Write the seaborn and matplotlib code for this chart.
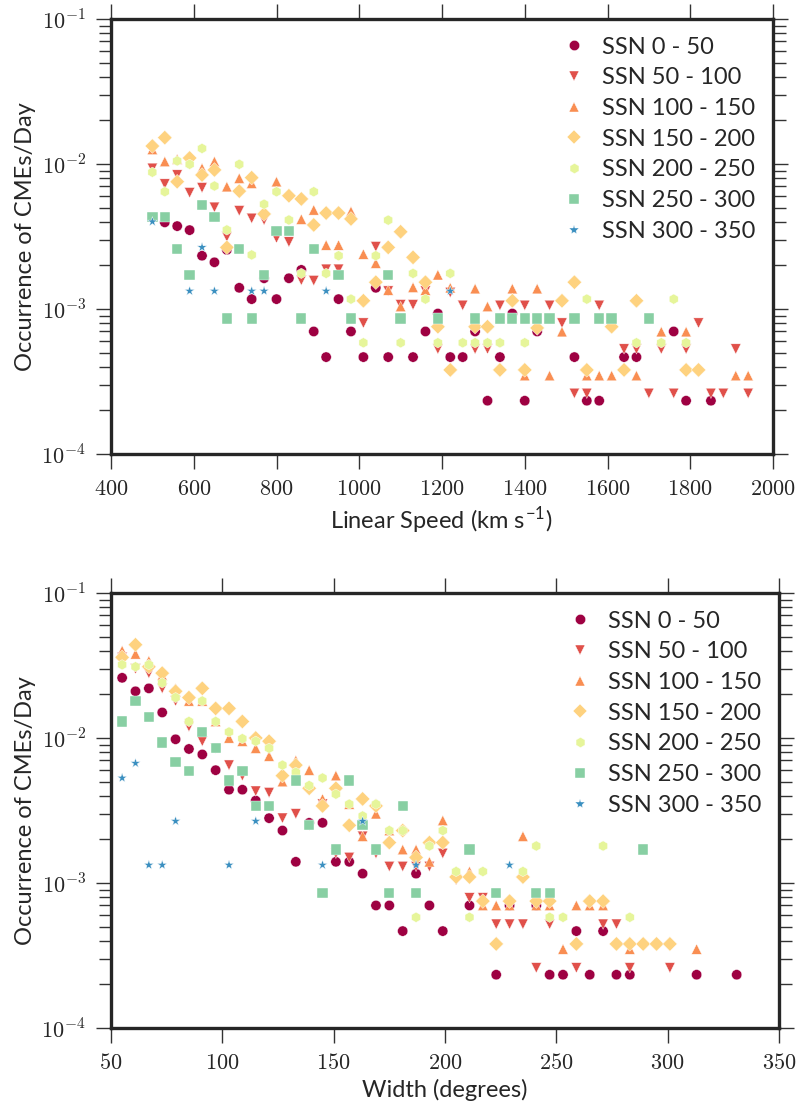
import numpy as np
import pandas as pd
import matplotlib
matplotlib.use("Agg")
import matplotlib.pyplot as plt
import seaborn as sns
from matplotlib.lines import Line2D
from matplotlib.ticker import LogLocator, FuncFormatter, NullFormatter

# ---------------- data ----------------
ssn_labels = ["SSN 0 - 50", "SSN 50 - 100", "SSN 100 - 150", "SSN 150 - 200",
              "SSN 200 - 250", "SSN 250 - 300", "SSN 300 - 350"]

# Top panel: linear speed (km/s) vs occurrence (CMEs/day)
spd_x0 = [530,560,590,620,650,680,710,740,770,800,830,860,890,920,950,980,1010,1040,1070,1130,
          1160,1190,1220,1250,1280,1310,1340,1370,1400,1430,1520,1550,1580,1640,1670,1760,1790,1850]
spd_y0 = [3.96e-3,3.73e-3,3.5e-3,2.33e-3,2.1e-3,2.56e-3,1.4e-3,1.17e-3,1.63e-3,1.17e-3,
          1.63e-3,1.86e-3,7.0e-4,4.66e-4,1.17e-3,7.0e-4,4.66e-4,1.4e-3,4.66e-4,4.66e-4,
          7.0e-4,9.3e-4,4.66e-4,4.66e-4,7.0e-4,2.33e-4,4.66e-4,9.3e-4,2.33e-4,7.0e-4,
          4.66e-4,2.33e-4,2.33e-4,4.66e-4,4.66e-4,7.0e-4,2.33e-4,2.33e-4]

spd_x1 = [500,530,560,590,620,650,680,710,740,770,800,830,860,890,920,950,1010,1040,1070,1100,
          1130,1160,1190,1220,1250,1280,1310,1340,1400,1460,1490,1520,1550,1580,1640,1670,1700,
          1730,1760,1790,1820,1850,1880,1910,1940]
spd_y1 = [9.34e-3,7.28e-3,8.4e-3,6.34e-3,6.86e-3,5.03e-3,3.15e-3,4.76e-3,4.22e-3,4.11e-3,3.09e-3,
          2.9e-3,1.58e-3,1.57e-3,1.88e-3,1.88e-3,8.0e-4,2.69e-3,1.33e-3,1.07e-3,1.07e-3,1.33e-3,
          5.3e-4,1.3e-3,1.06e-3,5.3e-4,5.3e-4,1.06e-3,1.06e-3,1.06e-3,8.0e-4,2.62e-4,2.62e-4,
          1.06e-3,5.3e-4,5.3e-4,2.62e-4,5.3e-4,2.62e-4,5.3e-4,8.0e-4,2.62e-4,2.62e-4,5.3e-4,2.62e-4]

spd_x2 = [500,530,560,620,650,680,710,740,800,860,890,920,950,980,1010,1040,1070,1100,1130,
          1160,1190,1220,1280,1310,1370,1400,1430,1460,1490,1550,1580,1610,1670,1730,1790,1910,1940]
spd_y2 = [1.26e-2,1.04e-2,1.08e-2,9.34e-3,1.04e-2,6.97e-3,7.97e-3,7.36e-3,7.55e-3,
          4.16e-3,4.82e-3,2.76e-3,2.76e-3,4.7e-3,2.39e-3,2.07e-3,1.35e-3,1.04e-3,1.41e-3,
          1.35e-3,1.72e-3,1.4e-3,1.38e-3,1.04e-3,1.38e-3,3.47e-4,1.38e-3,3.47e-4,6.97e-4,
          3.47e-4,3.47e-4,3.47e-4,3.47e-4,6.97e-4,6.97e-4,3.47e-4,3.47e-4]

spd_x3 = [500,530,560,590,620,650,680,710,740,770,830,860,890,920,950,980,1010,1040,1070,1100,
          1130,1160,1190,1220,1280,1310,1340,1370,1400,1430,1490,1520,1550,1610,1640,1670,1790,1820]
spd_y3 = [1.33e-2,1.52e-2,7.55e-3,1.1e-2,8.4e-3,9.1e-3,2.66e-3,6.5e-3,8.05e-3,4.52e-3,
          6.04e-3,5.74e-3,3.8e-3,4.59e-3,4.59e-3,4.18e-3,1.14e-3,1.53e-3,2.66e-3,3.41e-3,
          2.27e-3,1.53e-3,7.55e-4,3.8e-4,7.55e-4,7.55e-4,3.8e-4,1.14e-3,3.8e-4,7.4e-4,
          1.14e-3,1.53e-3,3.8e-4,7.55e-4,3.8e-4,1.14e-3,3.8e-4,3.8e-4]

spd_x4 = [500,530,560,590,620,650,680,710,740,770,800,830,860,890,920,950,980,1010,1040,1070,1100,
          1130,1160,1190,1220,1250,1280,1310,1340,1400,1550,1670,1730,1760,1790]
spd_y4 = [8.77e-3,6.44e-3,1.05e-2,9.95e-3,1.28e-2,7.05e-3,3.51e-3,9.95e-3,2.36e-3,5.28e-3,6.44e-3,
          4.11e-3,1.76e-3,6.44e-3,1.76e-3,2.33e-3,1.17e-3,5.85e-4,2.33e-3,4.1e-3,5.85e-4,
          1.76e-3,1.17e-3,5.85e-4,1.76e-3,5.85e-4,5.85e-4,5.85e-4,5.85e-4,5.85e-4,
          1.17e-3,5.85e-4,5.85e-4,1.17e-3,5.85e-4]

spd_x5 = [500,530,560,590,620,650,680,710,740,770,800,830,860,890,950,980,1070,1100,
          1190,1280,1340,1370,1400,1430,1460,1520,1580,1610,1700]
spd_y5 = [4.33e-3,4.33e-3,2.58e-3,1.72e-3,5.22e-3,4.29e-3,8.6e-4,2.58e-3,8.6e-4,1.72e-3,3.45e-3,
          3.45e-3,8.6e-4,2.59e-3,1.72e-3,8.6e-4,1.72e-3,8.6e-4,
          8.6e-4,8.6e-4,8.6e-4,8.6e-4,8.6e-4,8.6e-4,8.6e-4,8.6e-4,8.6e-4,8.6e-4,8.6e-4]

spd_x6 = [500,590,620,650,740,770,920,1220]
spd_y6 = [4.0e-3,1.33e-3,2.66e-3,1.33e-3,1.33e-3,1.33e-3,1.33e-3,1.33e-3]

# Bottom panel: width (degrees) vs occurrence (CMEs/day)
wid_x0 = [55,61,67,73,79,85,91,97,103,109,115,121,127,133,139,145,151,157,163,169,175,181,
          187,193,199,211,223,229,241,247,253,259,265,271,277,283,313,331]
wid_y0 = [2.6e-2,2.1e-2,2.2e-2,1.5e-2,9.8e-3,8.4e-3,7.7e-3,6.0e-3,4.4e-3,4.4e-3,3.7e-3,2.8e-3,
          2.3e-3,1.4e-3,2.6e-3,2.6e-3,1.4e-3,1.4e-3,1.16e-3,7e-4,7e-4,4.66e-4,
          1.16e-3,7e-4,4.66e-4,7e-4,2.33e-4,7e-4,7e-4,2.33e-4,2.33e-4,4.66e-4,
          2.33e-4,4.66e-4,2.33e-4,2.33e-4,2.33e-4,2.33e-4]

wid_x1 = [55,61,67,73,79,85,91,97,103,109,115,121,127,133,139,145,151,157,163,169,175,181,
          187,193,199,205,211,217,223,229,235,241,247,259,271,277,283,301]
wid_y1 = [3.6e-2,3.0e-2,2.8e-2,2.2e-2,1.8e-2,1.2e-2,9.5e-3,8.5e-3,6.5e-3,5.5e-3,4.3e-3,4.2e-3,
          2.8e-3,3.0e-3,2.5e-3,3.5e-3,1.6e-3,1.5e-3,2.1e-3,1.6e-3,1.3e-3,1.3e-3,
          1.3e-3,1.3e-3,1.6e-3,1.05e-3,7.9e-4,7.9e-4,5.2e-4,5.2e-4,5.2e-4,2.6e-4,
          5.2e-4,2.6e-4,5.2e-4,5.2e-4,2.6e-4,2.6e-4]

wid_x2 = [55,61,67,73,79,85,91,97,103,109,115,121,127,133,139,145,151,157,163,169,175,181,
          187,193,199,205,211,217,223,229,235,241,247,253,259,265,271,283,313]
wid_y2 = [4.0e-2,3.8e-2,3.4e-2,2.7e-2,2.2e-2,1.8e-2,1.8e-2,1.3e-2,1.0e-2,9.5e-3,8.5e-3,7.5e-3,
          5.0e-3,7.0e-3,6.0e-3,3.8e-3,5.5e-3,3.5e-3,2.1e-3,3.0e-3,2.3e-3,1.7e-3,
          1.7e-3,1.4e-3,2.7e-3,1.2e-3,1.2e-3,7e-4,7e-4,7e-4,2.1e-3,7e-4,
          7e-4,3.5e-4,7e-4,7e-4,7e-4,3.5e-4,3.5e-4]

wid_x3 = [55,61,67,73,79,85,91,97,103,109,115,121,127,133,139,145,151,157,163,169,175,181,
          187,193,199,205,211,217,223,229,235,241,247,259,265,271,277,283,289,295,301]
wid_y3 = [3.6e-2,4.4e-2,3.1e-2,2.8e-2,2.1e-2,1.9e-2,2.2e-2,1.6e-2,1.6e-2,1.3e-2,1.0e-2,9.5e-3,
          5.5e-3,6.5e-3,4.5e-3,3.4e-3,4.5e-3,2.5e-3,3.8e-3,3.4e-3,1.9e-3,2.3e-3,
          1.5e-3,1.9e-3,1.9e-3,1.1e-3,1.1e-3,7.5e-4,3.8e-4,7.5e-4,1.1e-3,7.5e-4,
          7.5e-4,3.8e-4,7.5e-4,7.5e-4,3.8e-4,3.8e-4,3.8e-4,3.8e-4,3.8e-4]

wid_x4 = [55,61,67,73,79,85,91,97,103,109,115,121,127,133,139,145,151,157,163,169,175,181,
          187,193,199,205,211,217,235,241,247,253,271,283]
wid_y4 = [3.2e-2,3.1e-2,3.2e-2,2.4e-2,1.9e-2,1.3e-2,1.8e-2,1.3e-2,1.1e-2,9.9e-3,9.5e-3,8.5e-3,
          6.5e-3,5.8e-3,4.7e-3,5.3e-3,4.1e-3,3.5e-3,2.9e-3,3.5e-3,2.3e-3,2.3e-3,
          5.8e-4,1.8e-3,2.3e-3,1.2e-3,5.8e-4,1.2e-3,1.2e-3,1.8e-3,5.8e-4,5.8e-4,1.8e-3,5.8e-4]

wid_x5 = [55,61,67,73,79,85,91,97,103,109,115,121,133,139,145,151,157,163,169,175,181,187,
          211,223,241,247,289]
wid_y5 = [1.3e-2,1.8e-2,1.4e-2,9.3e-3,6.8e-3,5.9e-3,1.1e-2,8.5e-3,5.1e-3,5.9e-3,3.4e-3,3.4e-3,
          5.1e-3,2.5e-3,8.5e-4,1.7e-3,5.1e-3,2.5e-3,1.7e-3,8.5e-4,3.4e-3,8.5e-4,
          1.7e-3,8.5e-4,8.5e-4,8.5e-4,1.7e-3]

wid_x6 = [55,61,67,73,79,103,115,145,163,187,229]
wid_y6 = [5.3e-3,6.7e-3,1.33e-3,1.33e-3,2.67e-3,1.33e-3,2.67e-3,1.33e-3,2.67e-3,1.33e-3,1.33e-3]

speed_ticks = [400, 600, 800, 1000, 1200, 1400, 1600, 1800, 2000]
width_ticks = [50, 100, 150, 200, 250, 300, 350]

# ---------------- style ----------------
colors = ["#9e0142", "#e0504a", "#f98e52", "#fed27f", "#e6f59a", "#88cfa3", "#3a8fc0"]
markers = ["o", "v", "^", "D", "h", "s", "*"]
palette = dict(zip(ssn_labels, colors))
marker_map = dict(zip(ssn_labels, markers))

def build_frame(xs, ys, xname):
    rows = []
    for lab, x, y in zip(ssn_labels, xs, ys):
        rows.append(pd.DataFrame({xname: x, "occ": y, "SSN": lab}))
    return pd.concat(rows, ignore_index=True)

df_speed = build_frame([spd_x0, spd_x1, spd_x2, spd_x3, spd_x4, spd_x5, spd_x6],
                       [spd_y0, spd_y1, spd_y2, spd_y3, spd_y4, spd_y5, spd_y6], "speed")
df_width = build_frame([wid_x0, wid_x1, wid_x2, wid_x3, wid_x4, wid_x5, wid_x6],
                       [wid_y0, wid_y1, wid_y2, wid_y3, wid_y4, wid_y5, wid_y6], "width")

sns.set_style("white")
plt.rcParams["font.family"] = ["Lato", "DejaVu Sans"]
plt.rcParams["mathtext.fontset"] = "cm"
plt.rcParams["axes.unicode_minus"] = False

FS = 17          # label / legend text
TFS = 16         # tick labels
fig = plt.figure(figsize=(7.97, 11.08), dpi=100)
W, H = 797.0, 1108.0
ax1 = fig.add_axes([111 / W, 1 - 454 / H, (773 - 111) / W, 435 / H])
ax2 = fig.add_axes([111 / W, 1 - 1028 / H, (779 - 111) / W, 435 / H])

def style_axis(ax, xlim, xticks, xlabel):
    ax.set_yscale("log")
    ax.set_ylim(1e-4, 1e-1)
    ax.set_xlim(*xlim)
    ax.set_xticks(xticks)
    ax.xaxis.set_major_formatter(FuncFormatter(lambda v, p: r"$%d$" % v))
    ax.yaxis.set_major_locator(LogLocator(base=10, numticks=10))
    ax.yaxis.set_minor_locator(LogLocator(base=10, subs=np.arange(2, 10), numticks=20))
    ax.yaxis.set_minor_formatter(NullFormatter())
    ax.yaxis.set_major_formatter(FuncFormatter(lambda v, p: r"$10^{%d}$" % int(round(np.log10(v)))))
    for sp in ax.spines.values():
        sp.set_visible(True)
        sp.set_linewidth(2.4)
        sp.set_color("#262626")
    ax.tick_params(which="both", direction="out", top=True, right=True, bottom=True, left=True,
                   color="#333333", width=1.0, labelsize=TFS, pad=7)
    ax.tick_params(which="major", length=11)
    ax.tick_params(which="minor", length=9)
    ax.set_xlabel(xlabel, fontsize=FS, color="#262626", labelpad=4)
    ax.set_ylabel("Occurrence of CMEs/Day", fontsize=FS, color="#262626", labelpad=4)
    handles = [Line2D([], [], linestyle="none", marker=marker_map[l], color=palette[l],
                      markeredgecolor="white", markeredgewidth=0.3, markersize=7.4)
               for l in ssn_labels]
    ax.legend(handles, ssn_labels, loc="upper right", frameon=False, fontsize=FS,
              handlelength=1.0, handletextpad=0.7, labelspacing=0.41, borderaxespad=0.35)

sns.scatterplot(data=df_speed, x="speed", y="occ", hue="SSN", style="SSN",
                hue_order=ssn_labels, style_order=ssn_labels, palette=palette,
                markers=marker_map, s=55, edgecolor="white", linewidth=0.3,
                legend=False, ax=ax1)
style_axis(ax1, (400, 2000), speed_ticks, r"Linear Speed (km s$^{\mathregular{-1}}$)")

sns.scatterplot(data=df_width, x="width", y="occ", hue="SSN", style="SSN",
                hue_order=ssn_labels, style_order=ssn_labels, palette=palette,
                markers=marker_map, s=55, edgecolor="white", linewidth=0.3,
                legend=False, ax=ax2)
style_axis(ax2, (50, 350), width_ticks, "Width (degrees)")

fig.savefig("out.png", dpi=100, facecolor="white")
